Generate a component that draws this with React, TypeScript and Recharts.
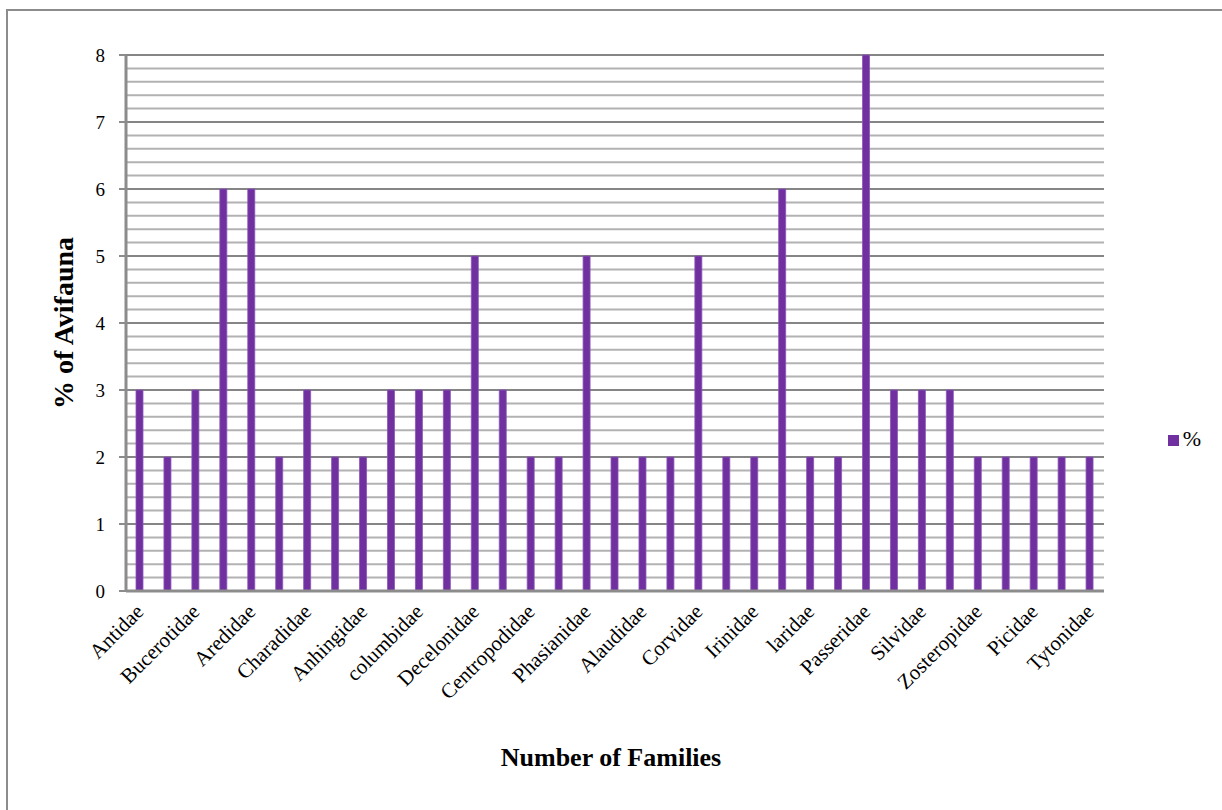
import React from "react";
import {
  BarChart,
  Bar,
  XAxis,
  YAxis,
  CartesianGrid,
  Legend,
  Label,
} from "recharts";

// Families in plotting order; only every other family name is printed on the axis.
const families: string[] = [
  "Antidae", "", "Bucerotidae", "", "Aredidae", "", "Charadidae", "",
  "Anhingidae", "", "columbidae", "", "Decelonidae", "", "Centropodidae", "",
  "Phasianidae", "", "Alaudidae", "", "Corvidae", "", "Irinidae", "",
  "laridae", "", "Passeridae", "", "Silvidae", "", "Zosteropidae", "",
  "Picidae", "", "Tytonidae",
];

// Share of the avifauna (%) per family
const percent: number[] = [
  3, 2, 3, 6, 6, 2, 3, 2, 2, 3, 3, 3, 5, 3, 2, 2, 5, 2,
  2, 2, 5, 2, 2, 6, 2, 2, 8, 3, 3, 3, 2, 2, 2, 2, 2,
];

const yTicks: number[] = [0, 1, 2, 3, 4, 5, 6, 7, 8];

// minor gridlines every 0.2
const minorLines: number[] = Array.from({ length: 41 }, (_, i) => +(i * 0.2).toFixed(1));

const data = families.map((name, i) => ({ idx: i, name, pct: percent[i] }));

const FONT = "'Liberation Serif', 'Times New Roman', serif";

const XTick = (props: any) => {
  const { x, y, payload } = props;
  const label = families[payload.value] ?? "";
  if (!label) return null;
  const tx = x + 5;
  const ty = y + 14;
  return (
    <text
      x={tx}
      y={ty}
      transform={`rotate(-45, ${tx}, ${ty})`}
      textAnchor="end"
      fontFamily={FONT}
      fontSize={21}
      fill="#000"
    >
      {label}
    </text>
  );
};

export default function App() {
  return (
    <div style={{ position: "fixed", left: 0, top: 0, width: 1222, height: 810, background: "#fff", overflow: "hidden" }}>
      <div style={{ position: "absolute", left: 0, top: 0 }}>
        <BarChart
          width={1222}
          height={810}
          data={data}
          margin={{ top: 55, right: 58, bottom: 218, left: 76 }}
          barCategoryGap={0}
        >
          <CartesianGrid
            vertical={false}
            horizontalValues={minorLines}
            stroke="#b2b2b2"
            strokeWidth={2}
          />
          <CartesianGrid
            vertical={false}
            horizontalValues={yTicks}
            stroke="#858585"
            strokeWidth={2}
          />
          <XAxis
            dataKey="idx"
            type="category"
            interval={0}
            tick={<XTick />}
            tickLine={false}
            axisLine={{ stroke: "#8c8c8c", strokeWidth: 3 }}
            height={1}
          >
            <Label
              position="bottom"
              content={({ viewBox }: any) => (
                <text
                  x={viewBox.x + viewBox.width / 2 - 4}
                  y={viewBox.y + 175}
                  textAnchor="middle"
                  fontFamily={FONT}
                  fontWeight="bold"
                  fontSize={26}
                  fill="#000"
                >
                  Number of Families
                </text>
              )}
            />
          </XAxis>
          <YAxis
            domain={[0, 8]}
            ticks={yTicks}
            interval={0}
            width={50}
            tickSize={7}
            tickMargin={14}
            tick={{ fontFamily: FONT, fontSize: 19, fill: "#000" }}
            axisLine={{ stroke: "#8c8c8c", strokeWidth: 3 }}
            tickLine={{ stroke: "#8c8c8c", strokeWidth: 2 }}
          >
            <Label
              position="left"
              content={({ viewBox }: any) => {
                const cx = viewBox.x - 3;
                const cy = viewBox.y + viewBox.height / 2;
                return (
                  <text
                    x={cx}
                    y={cy}
                    transform={`rotate(-90, ${cx}, ${cy})`}
                    textAnchor="middle"
                    fontFamily={FONT}
                    fontWeight="bold"
                    fontSize={28}
                    fill="#000"
                  >
                    % of Avifauna
                  </text>
                );
              }}
            />
          </YAxis>
          <Legend
            layout="horizontal"
            align="right"
            verticalAlign="middle"
            iconType="square"
            iconSize={11}
            wrapperStyle={{ position: "absolute", left: 1151, top: 426, width: 60, fontFamily: FONT, fontSize: 22, color: "#000" }}
            formatter={(v: string) => <span style={{ color: "#000", marginLeft: 0 }}>{v}</span>}
          />
          <Bar
            dataKey="pct"
            name="%"
            fill="#7030a0"
            stroke="#8a55b8"
            strokeWidth={0.8}
            barSize={7}
            isAnimationActive={false}
          />
        </BarChart>
      </div>
      <div
        style={{
          position: "absolute",
          left: 6,
          top: 9,
          width: 1300,
          height: 900,
          borderLeft: "2px solid #8c8c8c",
          borderTop: "2px solid #8c8c8c",
          pointerEvents: "none",
        }}
      />
    </div>
  );
}
